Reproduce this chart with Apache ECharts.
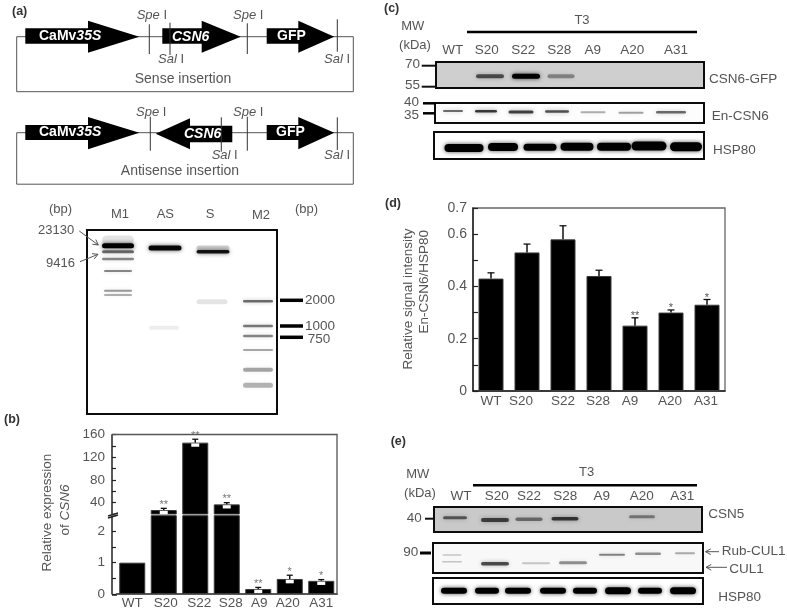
<!DOCTYPE html>
<html><head><meta charset="utf-8">
<style>html,body{margin:0;padding:0;background:#fff}#c{width:787px;height:610px;filter:blur(0.55px)}</style>
<script src="https://cdn.jsdelivr.net/npm/echarts@6/dist/echarts.min.js"></script>
</head><body><div id="c"></div>
<script>
// ---- data ----
const lines = ['WT','S20','S22','S28','A9','A20','A31'];
// (b) relative expression of CSN6
const exprValues = [1, 27, 146, 37, 0.16, 0.48, 0.42];
const exprErrors = [0, 3, 6, 3, 0.05, 0.12, 0.04];
const exprStars  = ['', '**', '**', '**', '**', '*', '*'];
const exprBreak = 20;
// (d) relative signal intensity En-CSN6/HSP80
const signalValues = [0.43, 0.53, 0.58, 0.44, 0.25, 0.30, 0.33];
const signalErrors = [0.022, 0.032, 0.052, 0.022, 0.03, 0.01, 0.02];
const signalStars  = ['', '', '', '', '**', '*', '*'];
// gel and blot bands: [along lane axis, migration, width, thickness, darkness]
const gelBands = [
 [31,10,32,9,.1],[31,15.7,32,5,1],[31,21.7,32,3,.55],[31,29,32,2.5,.45],[31,41,28,2,.45],[31,60.7,28,2,.38],[31,65,28,2,.3],
 [78,18,33,5,.95],[77,97.7,30,4,.07],
 [126,18,33,5,.18],[126,21.7,33,3.5,.9],[125,71.7,31,5,.1],
 [171,71.3,30,2.5,.55],[171,96,30,2.5,.5],[171,106,30,2.5,.45],[171,120,30,2,.33],[171,139.7,30,4,.33],[171,155.3,30,5,.28]];
const gfpBands = [[54,14.3,28,4,.6],[90,14.3,28,5,1],[125,14.3,27,4,.35]];
const enCsn6Bands = [[18,8,20,2,.55],[51,8.3,22,2.5,.75],[86,9,25,3,.7],[122,8.5,24,2.5,.65],[158,9.3,25,2,.3],[196,9.7,25,2,.35],[236,9.3,30,2.5,.55]];
const hspCBands = [[30,16,39,8,1],[69,15,30,8,1],[106,15.3,33,7,1],[143,14.7,33,8,1],[180,14.7,34,8,1],[215,14,35,9,1],[252,14.7,32,9,1]];
const csn5Bands = [[21,10.7,24,3,.55],[61,13,28,4,.65],[95,12.3,27,3.5,.45],[131,11.7,27,3.5,.7],[208,9.7,26,3,.4]];
const culBands = [[19,12,19,1.5,.2],[19,18.7,20,1.5,.2],[62,20.7,28,3.5,.65],[103,20.3,28,2,.2],[140,19.7,28,3,.4],[179,11.7,26,2,.45],[215,10.7,26,2.5,.4],[252,10.3,20,2,.3]];
const hspEBands = [[21,12.7,26,6,1],[54,12.7,24,6,1],[85,12.7,26,6,1],[120,12.7,26,6,1],[152,12.7,24,6,1],[185,12.7,26,7,1],[217,12.7,24,6,1],[250,12.7,26,7,1]];

// ---- styling helpers ----
const FF = '"Liberation Sans", Arial, sans-serif', GR = '#555', DK = '#111';
const grids = [], xAxes = [], yAxes = [], series = [], g = [];
const richFor = (s, c, b) => ({
  i:{fontStyle:'italic',fontSize:s,fontFamily:FF,fill:c,fontWeight:b?'bold':'normal'},
  n:{fontSize:s,fontFamily:FF,fill:c,fontWeight:b?'bold':'normal'}});
function T(text,x,y,o={}){
  const s=o.s||13,c=o.c||GR,a=o.a||'left';
  g.push({type:'text',x,y,rotation:o.r||0,z:20,style:{text,fontSize:s,fontFamily:FF,fontWeight:o.b?'bold':'normal',fontStyle:o.it?'italic':'normal',
    fill:c,align:a,textAlign:a,verticalAlign:'middle',textVerticalAlign:'middle',rich:richFor(s,c,o.b)}});
}
function L(x1,y1,x2,y2,w=1,c=GR){g.push({type:'line',z:15,shape:{x1,y1,x2,y2},style:{stroke:c,lineWidth:w}});}
function P(points,fill='#000'){g.push({type:'polygon',z:15,shape:{points},style:{fill}});}
function frame(x,y,w,h,c=GR,lw=1){g.push({type:'rect',z:12,shape:{x,y,width:w,height:h},style:{fill:'none',stroke:c,lineWidth:lw}});}
const arrowR=(x0,xb,xt,cy,b0,b1,h0,h1)=>P([[x0,b0],[xb,b0],[xb,h0],[xt,cy],[xb,h1],[xb,b1],[x0,b1]]);
const arrowL=(x0,xb,xt,cy,b0,b1,h0,h1)=>P([[x0,b0],[xb,b0],[xb,h0],[xt,cy],[xb,h1],[xb,b1],[x0,b1]]);
function openArrow(x1,y1,x2,y2,c=GR){
  L(x1,y1,x2,y2,1,c);
  const a=Math.atan2(y2-y1,x2-x1),k=6;
  L(x2,y2,x2-k*Math.cos(a-.5),y2-k*Math.sin(a-.5),1,c);
  L(x2,y2,x2-k*Math.cos(a+.5),y2-k*Math.sin(a+.5),1,c);
}

// ---- panel (a): constructs ----
T('(a)',12,12,{b:1,s:12.5,c:'#333'});
frame(16.7,36.7,336.6,55); frame(16.7,132.7,336.6,51.5);
arrowR(25.3,88,139.3,36.7,28.3,43.7,20.7,52.7);
arrowR(162.3,201.7,240.7,36.7,28.3,43.7,20.7,52.7);
arrowR(266.7,298.3,334.3,36.7,28.3,43.7,20.7,52.7);
[[149.3,24.3,54],[170,22.7,55],[247.3,23.3,54],[337.3,19.3,51.7]].forEach(a=>L(a[0],a[1],a[0],a[2],1,'#333'));
T('{i|Spe}{n| I}',136.7,15.7,{s:13}); T('{i|Spe}{n| I}',233,15,{s:13});
T('{i|Sal}{n| I}',158,59,{s:13}); T('{i|Sal}{n| I}',324,59.3,{s:13});
T('Sense insertion',183,79,{s:14,a:'center'});
T('CaMv{i|35S}',39,36,{s:14,b:1,c:'#fff'}); T('{i|CSN6}',172,36.7,{s:14,b:1,c:'#fff'}); T('GFP',277,36,{s:14,b:1,c:'#fff'});
arrowR(25.3,88,139.3,132.7,125,140,117,149.3);
arrowL(232.3,190,155.7,133.7,125.7,142.3,118.3,149.3);
arrowR(266.7,298.3,334.3,132.7,125,140,117,149.3);
[[150.3,116.7,150.7],[221.3,117.3,151.7],[247.3,116.7,150.7],[337.3,117.3,150]].forEach(a=>L(a[0],a[1],a[0],a[2],1,'#333'));
T('{i|Spe}{n| I}',136,112,{s:13}); T('{i|Spe}{n| I}',233,112,{s:13});
T('{i|Sal}{n| I}',211.7,155.3,{s:13}); T('{i|Sal}{n| I}',324,155.3,{s:13});
T('Antisense insertion',180,171,{s:14,a:'center'});
T('CaMv{i|35S}',39,132.3,{s:14,b:1,c:'#fff'}); T('{i|CSN6}',184,134,{s:14,b:1,c:'#fff'}); T('GFP',276,132,{s:14,b:1,c:'#fff'});

// ---- gel labels ----
T('(bp)',49,209,{s:13}); T('(bp)',295,209,{s:13});
T('M1',120,214.5,{s:13,a:'center'}); T('AS',165.3,214.5,{s:13,a:'center'}); T('S',210,214.5,{s:13,a:'center'}); T('M2',261,215,{s:13,a:'center'});
T('23130',38,230.7,{s:13}); T('9416',46,263.3,{s:13});
openArrow(79.3,231,98.3,245); openArrow(80,261.7,98,254.3);
[300.3,326,337.3].forEach(y=>L(280,y,303,y,3.5,'#000'));
T('2000',305,300,{s:13.5}); T('1000',305,326,{s:13.5}); T('750',307.7,339,{s:13.5});

// ---- bands through hidden scales ----
function bandItem(params,api){
  const c=api.coord([api.value(0),api.value(1)]), s=api.size([api.value(2),api.value(3)]), d=api.value(4);
  return {type:'rect',shape:{x:c[0]-s[0]/2,y:c[1]-s[1]/2,width:s[0],height:s[1],r:s[1]/2},
    style:{fill:`rgba(0,0,0,${d})`,shadowBlur:4,shadowColor:`rgba(0,0,0,${d*0.7})`}};
}
function blot(left,top,w,h,bg,bands,border=2){
  const i=grids.length;
  grids.push({left,top,width:w,height:h,show:true,backgroundColor:bg,borderColor:'#0c0c0c',borderWidth:border,containLabel:false});
  xAxes.push({gridIndex:i,type:'value',min:0,max:w,show:false});
  yAxes.push({gridIndex:i,type:'value',min:0,max:h,inverse:true,show:false});
  series.push({type:'custom',xAxisIndex:i,yAxisIndex:i,coordinateSystem:'cartesian2d',clip:true,renderItem:bandItem,data:bands,
    encode:{x:0,y:1},silent:true,animation:false});
}
blot(87,230,190,184,'#fff',gelBands);
blot(436,62,268,26,'#cfcfcf',gfpBands);
blot(435,103,269,20,'#fdfdfd',enCsn6Bands);
blot(434,132,270,27,'#fff',hspCBands);
blot(434,507,268,25,'#c9c9c9',csn5Bands);
blot(433,543,270,30,'#f8f8f8',culBands);
blot(433,578,270,26,'#fff',hspEBands);

// ---- panel (c) labels ----
T('(c)',384,9,{b:1,s:12.5,c:'#333'}); T('T3',582,20,{a:'center',s:13}); L(467,32,697,32,2.5,'#000');
T('MW',412.7,26.7,{a:'center',s:13}); T('(kDa)',415,45.7,{a:'center',s:13});
[['WT',452.7],['S20',486.7],['S22',523.3],['S28',559.3],['A9',592.7],['A20',632.3],['A31',676]].forEach(a=>T(a[0],a[1],50.7,{a:'center',s:13.5}));
T('70',405,64,{s:13.5}); L(421.7,65.7,436,65.7,2,'#111'); T('55',405,85,{s:13.5}); L(421.7,86.7,436,86.7,2,'#111');
T('40',404,102.3,{s:13.5}); L(423,103.3,435,103.3,2.5,'#000'); T('35',404,115.7,{s:13.5}); L(423,113.3,435,113.3,2.5,'#000');
T('CSN6-GFP',709,79.3,{s:13.5}); T('En-CSN6',711.7,116,{s:13.5}); T('HSP80',713,150,{s:13.5});

// ---- panel (e) labels ----
T('(e)',390.7,442,{b:1,s:12.5,c:'#333'}); T('T3',586.7,472.7,{a:'center',s:13}); L(473,485.3,697,485.3,2.5,'#000');
T('MW',417.7,474,{a:'center',s:13}); T('(kDa)',420,493.3,{a:'center',s:13});
[['WT',461],['S20',496.7],['S22',529],['S28',565.3],['A9',601.7],['A20',641.7],['A31',682.3]].forEach(a=>T(a[0],a[1],496.5,{a:'center',s:13.5}));
T('40',406.7,518.3,{s:13.5}); L(425,518.7,434,518.7,2,'#111');
T('90',403.3,552.7,{s:13.5}); L(420,553,431,553,3,'#000');
T('CSN5',708.3,514.3,{s:13.5}); T('Rub-CUL1',721.7,551.7,{s:13.5}); T('CUL1',729.3,569.3,{s:13.5}); T('HSP80',718.3,597.3,{s:13.5});
openArrow(719,551.7,705.5,551.7); openArrow(727,567.3,706,567.3);

// ---- bar charts ----
function shiftedLabels(names,shifts,size){
  const rich={};
  names.forEach((n,i)=>{const p=shifts[i]*2;rich['c'+i]={fontSize:size,fontFamily:FF,color:GR,padding:[0,p<0?-p:0,0,p>0?p:0]};});
  return {formatter:(v)=>`{c${names.indexOf(v)}|${v}}`,rich};
}
const barStyle={color:'#000',borderColor:'#3a3a3a',borderWidth:1};
function addAxis(o){grids.push(o.grid);const i=grids.length-1;
  xAxes.push(Object.assign({gridIndex:i,type:'category',data:lines,axisTick:{show:false}},o.x));
  yAxes.push(Object.assign({gridIndex:i,type:'value',splitLine:{show:false}},o.y));return i;}
const yCommon=(lbl)=>({axisLine:{show:true,lineStyle:{color:'#222',width:1.5}},
  axisTick:{show:true,inside:true,length:4,lineStyle:{color:'#222',width:1.2}},
  axisLabel:{fontSize:13.5,fontFamily:FF,color:GR,margin:7,formatter:lbl}});

// (b) two scales either side of the axis break
const bUp=addAxis({grid:{left:116.5,width:220.5,top:434.7,height:79.3},
  x:{show:false},
  y:Object.assign({min:20,max:160,interval:20,offset:4.5},yCommon(v=>v%40===0?String(v):''))});
const bLo=addAxis({grid:{left:116.5,width:220.5,top:515.7,height:79.3},
  x:Object.assign({axisLine:{show:true,lineStyle:{color:'#222',width:1.5}},axisLabel:Object.assign({fontSize:13.5,fontFamily:FF,color:GR,margin:2,interval:0},shiftedLabels(lines,[0,2,4,4,1,-2,0],13.5))}),
  y:Object.assign({min:0,max:2.5,interval:.5,offset:4.5},yCommon(v=>Number.isInteger(v)?String(v):''))});
series.push({type:'bar',xAxisIndex:bUp,yAxisIndex:bUp,barWidth:26,itemStyle:barStyle,animation:false,
  data:exprValues.map(v=>v>exprBreak?v:null)});
series.push({type:'bar',xAxisIndex:bLo,yAxisIndex:bLo,barWidth:26,itemStyle:barStyle,animation:false,data:exprValues});

function errExpr(params,api){
  const i=api.value(0),v=api.value(1),e=api.value(2);
  const top=api.coord([i,v]),cap=api.coord([i,v+e]),low=api.coord([i,v-e]);
  if(e===0) return {type:'group',children:[]};
  const x=top[0],y=top[1],yb=Math.max(low[1],y+3.5),ch=[];
  ch.push({type:'polygon',shape:{points:[[x-(yb-y>5?1:4),y+.8],[x+(yb-y>5?1:4),y+.8],[x+4,yb+.6],[x-4,yb+.6]]},style:{fill:'#fff'}});
  ch.push({type:'line',shape:{x1:x,y1:y,x2:x,y2:cap[1]},style:{stroke:'#111',lineWidth:1.5}});
  ch.push({type:'line',shape:{x1:x-3,y1:cap[1],x2:x+3,y2:cap[1]},style:{stroke:'#111',lineWidth:1.3}});
  const star=exprStars[i];
  if(star) ch.push({type:'text',style:{x,y:cap[1]-3.5,text:star,fontSize:11,fontFamily:FF,fill:'#777',align:'center',textAlign:'center',verticalAlign:'middle',textVerticalAlign:'middle'}});
  return {type:'group',children:ch};
}
const exprPts=exprValues.map((v,i)=>[i,v,exprErrors[i]]);
series.push({type:'custom',xAxisIndex:bUp,yAxisIndex:bUp,clip:false,renderItem:errExpr,animation:false,z:5,data:exprPts.filter(p=>p[1]>exprBreak),encode:{x:0,y:1}});
series.push({type:'custom',xAxisIndex:bLo,yAxisIndex:bLo,clip:false,renderItem:errExpr,animation:false,z:5,data:exprPts.filter(p=>p[1]<=exprBreak),encode:{x:0,y:1}});
// frame and break marks of (b)
g.push({type:'polyline',z:10,shape:{points:[[112,434.5],[337,434.5],[337,595]]},style:{fill:'none',stroke:'#555',lineWidth:1.3}});
L(112,595,117,595,1.5,'#222');
L(108,516,118,513,1.5,'#222'); L(108,518,118,515,1.5,'#222');
g.push({type:'rect',z:4,shape:{x:109,y:514.2,width:8,height:1.4},style:{fill:'#fff'}});
T('(b)',4,420,{b:1,s:12.5,c:'#333'});
T('Relative expression',47.7,512.7,{r:Math.PI/2,a:'center',s:13.5});
T('of {i|CSN6}',65.7,510,{r:Math.PI/2,a:'center',s:13.5});

// (d)
const dI=addAxis({grid:{left:473,width:252,top:208,height:183,show:true,borderColor:'#666',borderWidth:1.3},
  x:{axisLine:{show:true,lineStyle:{color:'#222',width:1.5}},axisLabel:Object.assign({fontSize:13.5,fontFamily:FF,color:GR,margin:3,interval:0},shiftedLabels(lines,[0,-6,0,-1,-5,-1,-1],13.5))},
  y:Object.assign({min:0,max:.7,interval:.1},yCommon(v=>[0,.2,.4,.6,.7].some(t=>Math.abs(t-v)<1e-6)?String(+v.toFixed(1)):''))});
yAxes[dI].axisTick.length=5; yAxes[dI].axisLabel.margin=6; yAxes[dI].axisLabel.fontSize=14;
series.push({type:'bar',xAxisIndex:dI,yAxisIndex:dI,barWidth:25,itemStyle:barStyle,animation:false,data:signalValues});
series.push({type:'custom',xAxisIndex:dI,yAxisIndex:dI,clip:false,animation:false,z:5,encode:{x:0,y:1},
  data:signalValues.map((v,i)=>[i,v,signalErrors[i]]),
  renderItem(params,api){
    const i=api.value(0),v=api.value(1),e=api.value(2),top=api.coord([i,v]),cap=api.coord([i,v+e]),x=top[0],ch=[];
    ch.push({type:'line',shape:{x1:x,y1:top[1],x2:x,y2:cap[1]},style:{stroke:'#111',lineWidth:1.5}});
    ch.push({type:'line',shape:{x1:x-3.5,y1:cap[1],x2:x+3.5,y2:cap[1]},style:{stroke:'#111',lineWidth:1.3}});
    if(signalStars[i]) ch.push({type:'text',style:{x,y:cap[1]-1.5,text:signalStars[i],fontSize:11,fontFamily:FF,fill:'#555',align:'center',textAlign:'center',verticalAlign:'middle',textVerticalAlign:'middle'}});
    return {type:'group',children:ch};
  }});
T('(d)',385,204,{b:1,s:12.5,c:'#333'});
T('Relative signal intensity',408.3,299,{r:Math.PI/2,a:'center',s:13.5});
T('En-CSN6/HSP80',424.3,281.7,{r:Math.PI/2,a:'center',s:13.5});

const chart=echarts.init(document.getElementById('c'),null,{renderer:'canvas'});
chart.setOption({animation:false,backgroundColor:'#fff',textStyle:{fontFamily:FF},grid:grids,xAxis:xAxes,yAxis:yAxes,series,graphic:{elements:g},tooltip:{show:false}});
</script></body></html>
